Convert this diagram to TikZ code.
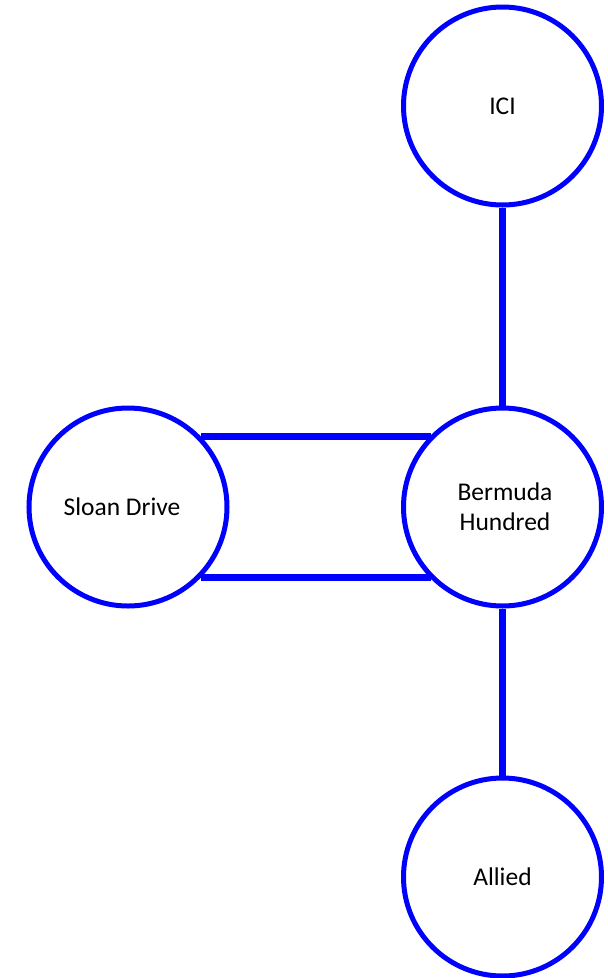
\documentclass[tikz,border=0pt]{standalone}
\usepackage{fontspec}
\setmainfont{Carlito}
\definecolor{pureblue}{RGB}{0,0,255}
\begin{document}
\begin{tikzpicture}[x=1pt,y=-1pt,
  station/.style={circle,draw=pureblue,line width=5pt,minimum size=198pt,inner sep=0pt,
    font=\fontsize{25.5}{30}\selectfont,align=center,text=black},
  link/.style={draw=pureblue,line width=7pt}]
\useasboundingbox (0,0) rectangle (608,978);
\node[station] (ici) at (502.5,106) {ICI};
\node[station] (bh) at (502.5,507) {\hspace*{5pt}Bermuda\\\hspace*{5pt}Hundred};
\node[station] (sd) at (128,507) {Sloan Drive\hspace*{12pt}};
\node[station] (al) at (502.5,877) {Allied};
\draw[link] (ici.south) -- (bh.north);
\draw[link] (bh.south) -- (al.north);
\draw[link] (sd.44.4) -- (bh.135.6 |- sd.44.4);
\draw[link] (sd.-44.4) -- (bh.-135.6 |- sd.-44.4);
\end{tikzpicture}
\end{document}
